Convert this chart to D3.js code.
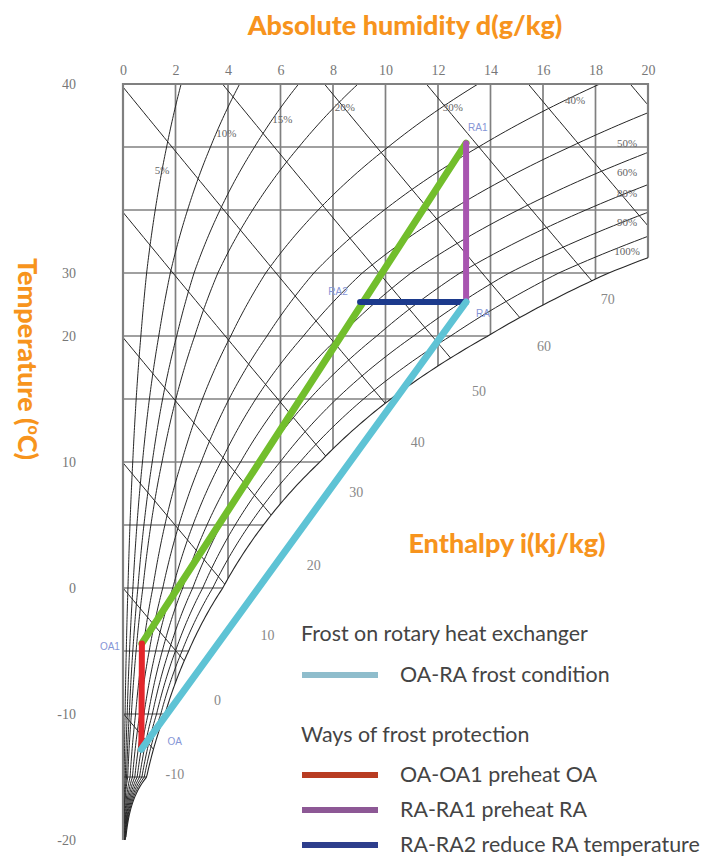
<!DOCTYPE html>
<html><head><meta charset="utf-8">
<script src="https://cdn.jsdelivr.net/npm/d3@7"></script>
<style>body{margin:0;background:#fff}svg{display:block}</style>
</head><body>
<svg id="chart" width="718" height="857"></svg>
<script>
// ---------- data ----------
const dTicks = [0, 2, 4, 6, 8, 10, 12, 14, 16, 18, 20];               // absolute humidity, g/kg
const isotherms = [-15, -10, -5, 0, 5, 10, 15, 20, 25, 30, 35];        // °C grid lines
const tempTickValues = [40, 25, 20, 10, 0, -10, -20];                  // where the labels sit
const tempTickLabels = ["40", "30", "20", "10", "0", "-10", "-20"];    // text as printed
const satTemps = [-20, -15, -10, -5, 0, 5, 10, 15, 20, 25, 30, 35, 40];
const satHumidity = [0.1, 0.9, 1.6, 2.5, 3.8, 5.35, 7.5, 10.2, 13.9, 18.5, 25.5, 35, 47.5];
const rhLevels = [5, 10, 15, 20, 30, 40, 50, 60, 70, 80, 90];          // % curves
const rhLabelRH = [5, 10, 15, 20, 30, 40, 50, 60, 80, 90, 100];
const rhLabelText = ["5%", "10%", "15%", "20%", "30%", "40%", "50%", "60%", "80%", "90%", "100%"];
const rhLabelTemps = [33.2, 36.1, 37.2, 38.2, 38.2, 38.7, 35.3, 33.0, 31.3, 29.0, 26.7];
const enthalpyLevels = [-10, 0, 10, 20, 30, 40, 50, 60, 70, 80, 90];   // kJ/kg
const enthalpyLabelLevels = [-10, 0, 10, 20, 30, 40, 50, 60, 70];
const enthalpyLabelTemps = [-14.8, -8.9, -3.7, 1.8, 7.6, 11.6, 15.6, 19.2, 22.9];
const pointNames = ["OA", "OA1", "RA", "RA1", "RA2"];
const pointD = [0.7, 0.72, 13.07, 13.07, 9.03];
const pointT = [-12.8, -4.4, 22.7, 35.3, 22.7];
const processNames = ["OA1-RA1", "OA-OA1", "RA-RA1", "RA2-RA", "OA-RA"];
const processFrom = ["OA1", "OA", "RA", "RA2", "OA"];
const processTo = ["RA1", "OA1", "RA1", "RA", "RA"];
const legendHeaders = ["Frost on rotary heat exchanger", "Ways of frost protection"];
const legendLabels = ["OA-RA frost condition", "OA-OA1 preheat OA", "RA-RA1 preheat RA", "RA-RA2 reduce RA temperature"];

// ---------- setup ----------
const svg = d3.select("#chart");
const x = d3.scaleLinear().domain([0, 20]).range([123, 648]);
const y = d3.scaleLinear().domain([-20, 40]).range([840, 84]);
const P = 101.325;
const lnSat = d3.scaleLinear().domain(satTemps).range(satHumidity.map(Math.log));
const dSat = T => Math.exp(lnSat(T));
const dRH = (phi, T) => { const ds = dSat(T); const p = P * ds / (622 + ds); return 622 * phi * p / (P - phi * p); };
const dEnth = (i, T) => 1000 * (i - 1.006 * T) / (2501 + 1.86 * T);
const T20 = lnSat.invert(Math.log(20));
const line = d3.line().x(p => x(p[0])).y(p => y(p[1]));
const ORANGE = "#f7941d";

// clip region (chart area bounded by saturation curve)
const satPts = d3.range(T20, -20.0001, -0.25).map(T => [dSat(T), T]);
const region = [[0, 40], [20, 40], [20, T20], ...satPts, [dSat(-20), -20], [0, -20]];
const defs = svg.append("defs");
defs.append("clipPath").attr("id", "area").append("path").attr("d", line(region) + "Z");
defs.append("filter").attr("id", "soft").append("feGaussianBlur").attr("stdDeviation", 0.45);

const grid = svg.append("g").attr("filter", "url(#soft)");
const clipped = grid.append("g").attr("clip-path", "url(#area)");

// isotherms
clipped.selectAll(".iso").data(isotherms).join("path")
  .attr("d", T => line([[0, T], [20, T]]))
  .attr("stroke", "#808080").attr("stroke-width", 1.7).attr("fill", "none");
// constant d lines
clipped.selectAll(".dl").data(dTicks).join("path")
  .attr("d", d => line([[d, 40], [d, -20]]))
  .attr("stroke", "#808080").attr("stroke-width", 1.7).attr("fill", "none");
// enthalpy lines
clipped.selectAll(".en").data(enthalpyLevels).join("path")
  .attr("d", i => line(d3.range(i / 1.006, -25, -0.5).map(T => [dEnth(i, T), T])))
  .attr("stroke", "#262626").attr("stroke-width", 1).attr("fill", "none");
// relative humidity curves
clipped.selectAll(".rh").data(rhLevels).join("path")
  .attr("d", r => line(d3.range(-20, 40.01, 0.25).map(T => [dRH(r / 100, T), T])))
  .attr("stroke", "#262626").attr("stroke-width", 1).attr("fill", "none");
// boundary
grid.append("path").attr("d", line([[0, -20], [0, 40], [20, 40], [20, T20]]))
  .attr("stroke", "#808080").attr("stroke-width", 2.2).attr("fill", "none");
grid.append("path").attr("d", line([[20, T20], ...satPts]))
  .attr("stroke", "#262626").attr("stroke-width", 1.1).attr("fill", "none");

// axes (labels only)
const tickFont = "'Liberation Serif', serif";
const xa = svg.append("g").attr("transform", `translate(0,${y(40) - 6})`)
  .call(d3.axisTop(x).tickValues(dTicks).tickSize(0).tickFormat(d3.format("d")));
xa.select(".domain").remove();
xa.selectAll("text").attr("font-family", tickFont).attr("font-size", 14).attr("fill", "#777");
const ya = svg.append("g").attr("transform", "translate(79,0)")
  .call(d3.axisLeft(y).tickValues(tempTickValues).tickSize(0)
    .tickFormat((v, k) => tempTickLabels[k]));
ya.select(".domain").remove();
ya.selectAll("text").attr("font-family", tickFont).attr("font-size", 14).attr("fill", "#777");

// RH labels
svg.append("g").selectAll("text").data(rhLabelRH).join("text")
  .attr("x", (r, k) => r >= 50 ? x(19.2) : x(dRH(r / 100, rhLabelTemps[k])) + (r === 5 ? 0 : 10))
  .attr("y", (r, k) => y(rhLabelTemps[k]))
  .attr("dy", "0.35em").attr("text-anchor", "middle")
  .attr("font-family", tickFont).attr("font-size", 11).attr("fill", "#666")
  .text((r, k) => rhLabelText[k]);

// enthalpy labels
svg.append("g").selectAll("text").data(enthalpyLabelLevels).join("text")
  .attr("x", (i, k) => x(dEnth(i, enthalpyLabelTemps[k])))
  .attr("y", (i, k) => y(enthalpyLabelTemps[k]))
  .attr("dy", "0.35em").attr("text-anchor", "middle")
  .attr("font-family", tickFont).attr("font-size", 14).attr("fill", "#888")
  .text(i => i);

// process lines
const pIdx = n => pointNames.indexOf(n);
const procColor = { "OA1-RA1": "#72be2c", "OA-OA1": "#e3262b", "RA-RA1": "#a855b0", "RA2-RA": "#1c3a8c", "OA-RA": "#5ec3d5" };
const procWidth = { "OA1-RA1": 7, "OA-OA1": 6, "RA-RA1": 6, "RA2-RA": 6, "OA-RA": 7 };
svg.append("g").selectAll("path").data(processNames).join("path")
  .attr("d", (n, k) => {
    const a = pIdx(processFrom[k]), b = pIdx(processTo[k]);
    return line([[pointD[a], pointT[a]], [pointD[b], pointT[b]]]);
  })
  .attr("stroke", n => procColor[n]).attr("stroke-width", n => procWidth[n])
  .attr("stroke-linecap", "round").attr("fill", "none");

// point labels
const pOff = { OA: [26, -8, "start"], OA1: [-22, 3, "end"], RA: [10, 12, "start"], RA1: [2, -16, "start"], RA2: [-22, -10, "middle"] };
svg.append("g").selectAll("text").data(pointNames).join("text")
  .attr("x", (n, k) => x(pointD[k]) + pOff[n][0])
  .attr("y", (n, k) => y(pointT[k]) + pOff[n][1])
  .attr("dy", "0.35em").attr("text-anchor", n => pOff[n][2])
  .attr("font-family", "'Liberation Sans', sans-serif").attr("font-size", 10).attr("fill", "#8595d6")
  .text(n => n);

// titles
const titleFont = "Lato, 'Open Sans', sans-serif";
svg.append("text").attr("x", 405).attr("y", 35).attr("text-anchor", "middle")
  .attr("font-family", titleFont).attr("font-weight", 900).attr("font-size", 27).attr("fill", ORANGE)
  .text("Absolute humidity d(g/kg)");
const tt = svg.append("text").attr("transform", "translate(18,359) rotate(90)").attr("text-anchor", "middle")
  .attr("font-family", titleFont).attr("font-weight", 900).attr("font-size", 27).attr("fill", ORANGE);
tt.append("tspan").text("Temperature (");
tt.append("tspan").attr("font-size", 16).attr("dy", -10).text("o");
tt.append("tspan").attr("dy", 10).text("C)");
svg.append("text").attr("x", 507).attr("y", 553).attr("text-anchor", "middle")
  .attr("font-family", titleFont).attr("font-weight", 900).attr("font-size", 27).attr("fill", ORANGE)
  .text("Enthalpy i(kj/kg)");

// legend
const legendFont = "Lato, 'Open Sans', sans-serif";
const lg = svg.append("g").attr("font-family", legendFont).attr("font-size", 21.4).attr("fill", "#444");
const headerY = [634, 735];
lg.selectAll(".h").data(legendHeaders).join("text")
  .attr("x", 301).attr("y", (h, k) => headerY[k]).attr("dy", "0.35em").text(h => h);
const entryY = [675, 775, 810, 845];
const entryColor = ["#8fbdcc", "#b83c22", "#8d5895", "#2d3e8c"];
lg.selectAll(".s").data(legendLabels).join("line")
  .attr("x1", 302).attr("x2", 378).attr("y1", (l, k) => entryY[k]).attr("y2", (l, k) => entryY[k])
  .attr("stroke", (l, k) => entryColor[k]).attr("stroke-width", 6);
lg.selectAll(".t").data(legendLabels).join("text")
  .attr("x", 400).attr("y", (l, k) => entryY[k]).attr("dy", "0.35em").text(l => l);
</script>
</body></html>
